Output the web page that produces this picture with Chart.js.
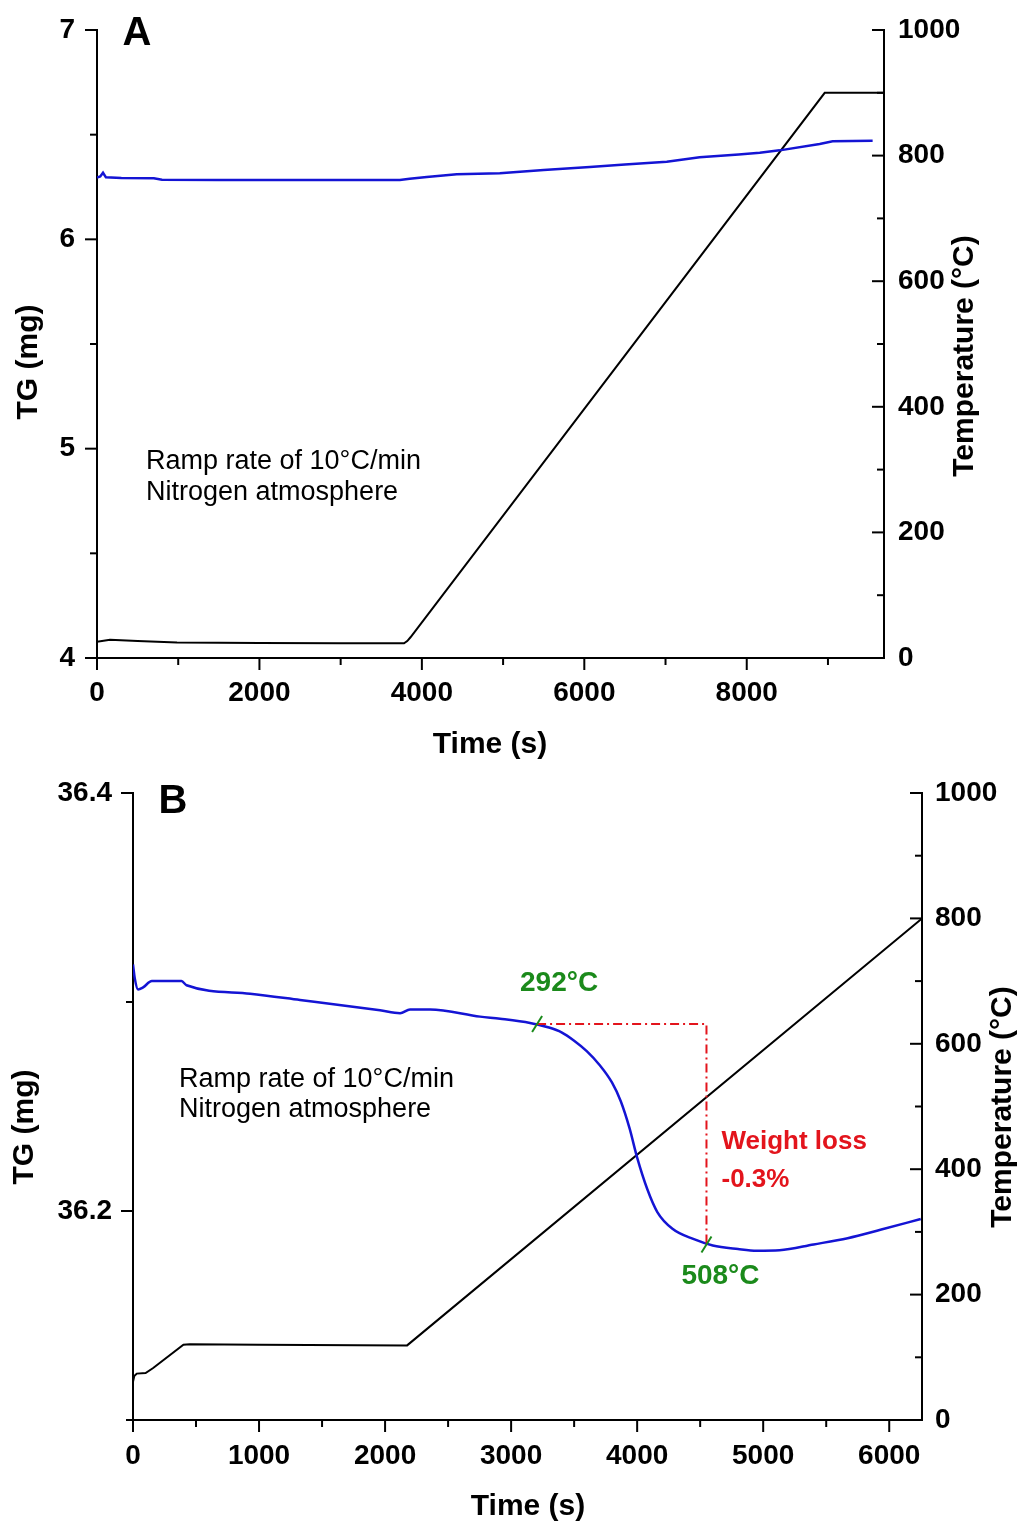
<!DOCTYPE html>
<html>
<head>
<meta charset="utf-8">
<title>TG and temperature vs time</title>
<script src="https://cdn.jsdelivr.net/npm/chart.js@4.4.1/dist/chart.umd.min.js"></script>
<style>
  html, body { margin: 0; padding: 0; background: #fff; }
  canvas { position: absolute; left: 0; }
  #panelA { top: 0; }
  #panelB { top: 770px; }
</style>
</head>
<body>
<canvas id="panelA" width="1021" height="770"></canvas>
<canvas id="panelB" width="1021" height="755"></canvas>
<script>
const FONT = "'Liberation Sans', Arial, sans-serif";
const BLUE = '#1414d4';
const GREEN = '#1b8a1b';
const RED = '#e3141c';

// ---- panel A: weight and furnace temperature, blank run ----
const timeA_tg = [0, 40, 74, 110, 300, 700, 800, 1500, 2500, 3500, 3729, 3850, 4060, 4430, 4960, 5500, 6068, 6500, 7015, 7420, 7900, 8160, 8405, 8898, 9058, 9300, 9550];
const tgA = [6.295, 6.300, 6.318, 6.296, 6.293, 6.292, 6.285, 6.284, 6.283, 6.283, 6.283, 6.289, 6.298, 6.311, 6.316, 6.331, 6.346, 6.358, 6.371, 6.392, 6.405, 6.414, 6.425, 6.455, 6.468, 6.470, 6.471];
const timeA_temp = [0, 160, 500, 985, 2000, 3000, 3780, 3820, 3860, 8960, 9690];
const tempA = [26, 29, 27, 24.5, 24, 23.5, 23.5, 27, 33, 900, 900];

// ---- panel B: weight and temperature with the decomposition step ----
const timeB_tg = [0, 15, 40, 80, 150, 385, 425, 929, 1325, 1960, 2119, 2198, 2357, 2754, 2913, 3150, 3300, 3400, 3500, 3600, 3700, 3800, 3870, 3940, 4000, 4080, 4160, 4280, 4450, 4600, 4800, 4950, 5130, 5400, 5670, 5930, 6250];
const tgB = [36.318, 36.311, 36.306, 36.307, 36.310, 36.310, 36.308, 36.304, 36.301, 36.296, 36.2946, 36.2964, 36.2964, 36.293, 36.292, 36.290, 36.2878, 36.2855, 36.2815, 36.2765, 36.2700, 36.2615, 36.2525, 36.2395, 36.2255, 36.2105, 36.1995, 36.1915, 36.1865, 36.1835, 36.1818, 36.1810, 36.1812, 36.1840, 36.1870, 36.1910, 36.1962];
const timeB_temp = [0, 10, 30, 100, 160, 400, 450, 1000, 2175, 6260];
const tempB = [61, 70, 74, 75, 83, 120, 121, 120, 119, 800];

// onset points of the weight-loss step
const onsetTimeB = [3206, 4550];
const onsetTgB = [36.2895, 36.184];
const onsetLabelB = ['292°C', '508°C'];
const lossLabelB = ['Weight loss', '-0.3%'];

const noteLines = ['Ramp rate of 10°C/min', 'Nitrogen atmosphere'];

// labelled (major) tick values; the scales step through the minor ones
const timeTicksA = [0, 2000, 4000, 6000, 8000];
const tgTicksA = [4, 5, 6, 7];
const tempTicks = [0, 200, 400, 600, 800, 1000];
const timeTicksB = [0, 1000, 2000, 3000, 4000, 5000, 6000];
const tgTicksB = [36.2, 36.4];

Chart.defaults.font.family = FONT;
Chart.defaults.color = '#000';

const pts = (xs, ys) => xs.map((x, i) => ({ x, y: ys[i] }));
const isIn = (list, v, step) => list.some(l => Math.abs(l - v) < step / 100);

function axis(position, min, max, step, majors, size, pad, fmt) {
  return {
    type: 'linear',
    position,
    min,
    max,
    grid: { display: false, drawTicks: false },
    border: { display: true, color: '#000', width: 2 },
    ticks: {
      autoSkip: false,
      maxRotation: 0,
      padding: pad,
      color: '#000',
      font: { family: FONT, size: 28, weight: 'bold' },
      callback: v => (isIn(majors, v, step) ? fmt(v) : '')
    },
    // every minor step from min up to max
    afterBuildTicks: s => {
      const n = Math.floor((max - min) / step + 1e-9);
      const ticks = [];
      for (let i = 0; i <= n; i++) ticks.push({ value: +(min + i * step).toFixed(6) });
      s.ticks = ticks;
    },
    // fixed box sizes so every panel lines up; labels may overhang the plot area
    afterFit: s => {
      if (s.isHorizontal()) {
        s.height = size;
        s.paddingLeft = s.paddingRight = 0;
      } else {
        s.width = size;
        s.paddingTop = s.paddingBottom = 0;
      }
    }
  };
}

// tick marks: long on labelled values, short on the rest; right axis ticks point inward
function tickMarks(axes) {
  return {
    id: 'tickMarks',
    afterDraw(chart) {
      const ctx = chart.ctx;
      ctx.save();
      ctx.strokeStyle = '#000';
      ctx.lineWidth = 2;
      Object.keys(axes).forEach(id => {
        const scale = chart.scales[id];
        const [majors, step] = axes[id];
        scale.ticks.forEach(t => {
          const len = isIn(majors, t.value, step) ? 12 : 7;
          const p = scale.getPixelForValue(t.value);
          ctx.beginPath();
          if (scale.isHorizontal()) {
            ctx.moveTo(p, scale.top);
            ctx.lineTo(p, scale.top + len);
          } else if (scale.position === 'left') {
            ctx.moveTo(scale.right, p);
            ctx.lineTo(scale.right - len, p);
          } else {
            ctx.moveTo(scale.left, p);
            ctx.lineTo(scale.left - len, p);
          }
          ctx.stroke();
        });
      });
      ctx.restore();
    }
  };
}

// free text: panel letter, run conditions and axis titles
function textLayer(items) {
  return {
    id: 'textLayer',
    afterDraw(chart) {
      const ctx = chart.ctx;
      items.forEach(it => {
        ctx.save();
        ctx.font = it.font;
        ctx.fillStyle = it.color || '#000';
        ctx.textAlign = it.align || 'center';
        ctx.textBaseline = it.baseline || 'middle';
        ctx.translate(it.x, it.y);
        if (it.rotate) ctx.rotate(it.rotate);
        ctx.fillText(it.text, 0, 0);
        ctx.restore();
      });
    }
  };
}

const titleFont = `bold 30px ${FONT}`;
const noteFont = `27px ${FONT}`;
const letterFont = `bold 40px ${FONT}`;

function baseOptions(padTop) {
  return {
    responsive: false,
    animation: false,
    events: [],
    devicePixelRatio: 1,
    layout: { padding: { top: padTop, left: 0, right: 0, bottom: 0 } },
    plugins: { legend: { display: false }, tooltip: { enabled: false } },
    elements: { point: { radius: 0 }, line: { tension: 0 } }
  };
}

// ---------------- panel A ----------------
new Chart(document.getElementById('panelA'), {
  type: 'line',
  data: {
    datasets: [
      { data: pts(timeA_tg, tgA), yAxisID: 'yTG', borderColor: BLUE, borderWidth: 2.5 },
      { data: pts(timeA_temp, tempA), yAxisID: 'yT', borderColor: '#000', borderWidth: 2 }
    ]
  },
  options: Object.assign(baseOptions(30), {
    scales: {
      x: axis('bottom', 0, 9690, 1000, timeTicksA, 112, 18, v => String(v)),
      yTG: axis('left', 4, 7, 0.5, tgTicksA, 97, 22, v => String(v)),
      yT: axis('right', 0, 1000, 100, tempTicks, 137, 14, v => String(v))
    }
  }),
  plugins: [
    tickMarks({ x: [timeTicksA, 1000], yTG: [tgTicksA, 0.5], yT: [tempTicks, 100] }),
    textLayer([
      { text: 'A', x: 137, y: 34, font: letterFont },
      { text: noteLines[0], x: 146, y: 469, font: noteFont, align: 'left', baseline: 'alphabetic' },
      { text: noteLines[1], x: 146, y: 500, font: noteFont, align: 'left', baseline: 'alphabetic' },
      { text: 'Time (s)', x: 490, y: 745, font: titleFont },
      { text: 'TG (mg)', x: 29, y: 362, font: titleFont, rotate: -Math.PI / 2 },
      { text: 'Temperature (°C)', x: 965, y: 356, font: titleFont, rotate: -Math.PI / 2 }
    ])
  ]
});

// onset marks, weight-loss bracket labels
const stepNotes = {
  id: 'stepNotes',
  afterDatasetsDraw(chart) {
    const ctx = chart.ctx;
    const x = chart.scales.x, y = chart.scales.yTG;
    const px = onsetTimeB.map(t => x.getPixelForValue(t));
    const py = onsetTgB.map(v => y.getPixelForValue(v));
    ctx.save();
    ctx.strokeStyle = GREEN;
    ctx.lineWidth = 2;
    px.forEach((cx, i) => {
      ctx.beginPath();
      ctx.moveTo(cx - 5, py[i] + 8);
      ctx.lineTo(cx + 5, py[i] - 8);
      ctx.stroke();
    });
    ctx.textBaseline = 'middle';
    ctx.textAlign = 'center';
    ctx.fillStyle = GREEN;
    ctx.font = `bold 28px ${FONT}`;
    ctx.fillText(onsetLabelB[0], px[0] + 22, py[0] - 41);
    ctx.fillText(onsetLabelB[1], px[1] + 14, py[1] + 32);
    const mid = (py[0] + py[1]) / 2;
    ctx.textAlign = 'left';
    ctx.fillStyle = RED;
    ctx.font = `bold 26px ${FONT}`;
    ctx.fillText(lossLabelB[0], px[1] + 15, mid + 8);
    ctx.fillText(lossLabelB[1], px[1] + 15, mid + 46);
    ctx.restore();
  }
};

// ---------------- panel B ----------------
new Chart(document.getElementById('panelB'), {
  type: 'line',
  data: {
    datasets: [
      {
        data: [
          { x: onsetTimeB[0], y: onsetTgB[0] },
          { x: onsetTimeB[1], y: onsetTgB[0] },
          { x: onsetTimeB[1], y: onsetTgB[1] }
        ],
        yAxisID: 'yTG', borderColor: RED, borderWidth: 2, borderDash: [9, 4, 2, 4]
      },
      { data: pts(timeB_tg, tgB), yAxisID: 'yTG', borderColor: BLUE, borderWidth: 2.5, cubicInterpolationMode: 'monotone' },
      { data: pts(timeB_temp, tempB), yAxisID: 'yT', borderColor: '#000', borderWidth: 2 }
    ]
  },
  options: Object.assign(baseOptions(23), {
    scales: {
      x: axis('bottom', 0, 6260, 500, timeTicksB, 105, 19, v => String(v)),
      yTG: axis('left', 36.1, 36.4, 0.1, tgTicksB, 133, 21, v => v.toFixed(1)),
      yT: axis('right', 0, 1000, 100, tempTicks, 99, 13, v => String(v))
    }
  }),
  plugins: [
    tickMarks({ x: [timeTicksB, 500], yTG: [tgTicksB, 0.1], yT: [tempTicks, 100] }),
    stepNotes,
    textLayer([
      { text: 'B', x: 173, y: 32, font: letterFont },
      { text: noteLines[0], x: 179, y: 317, font: noteFont, align: 'left', baseline: 'alphabetic' },
      { text: noteLines[1], x: 179, y: 347, font: noteFont, align: 'left', baseline: 'alphabetic' },
      { text: 'Time (s)', x: 528, y: 737, font: titleFont },
      { text: 'TG (mg)', x: 25, y: 357, font: titleFont, rotate: -Math.PI / 2 },
      { text: 'Temperature (°C)', x: 1003, y: 337, font: titleFont, rotate: -Math.PI / 2 }
    ])
  ]
});
</script>
</body>
</html>
